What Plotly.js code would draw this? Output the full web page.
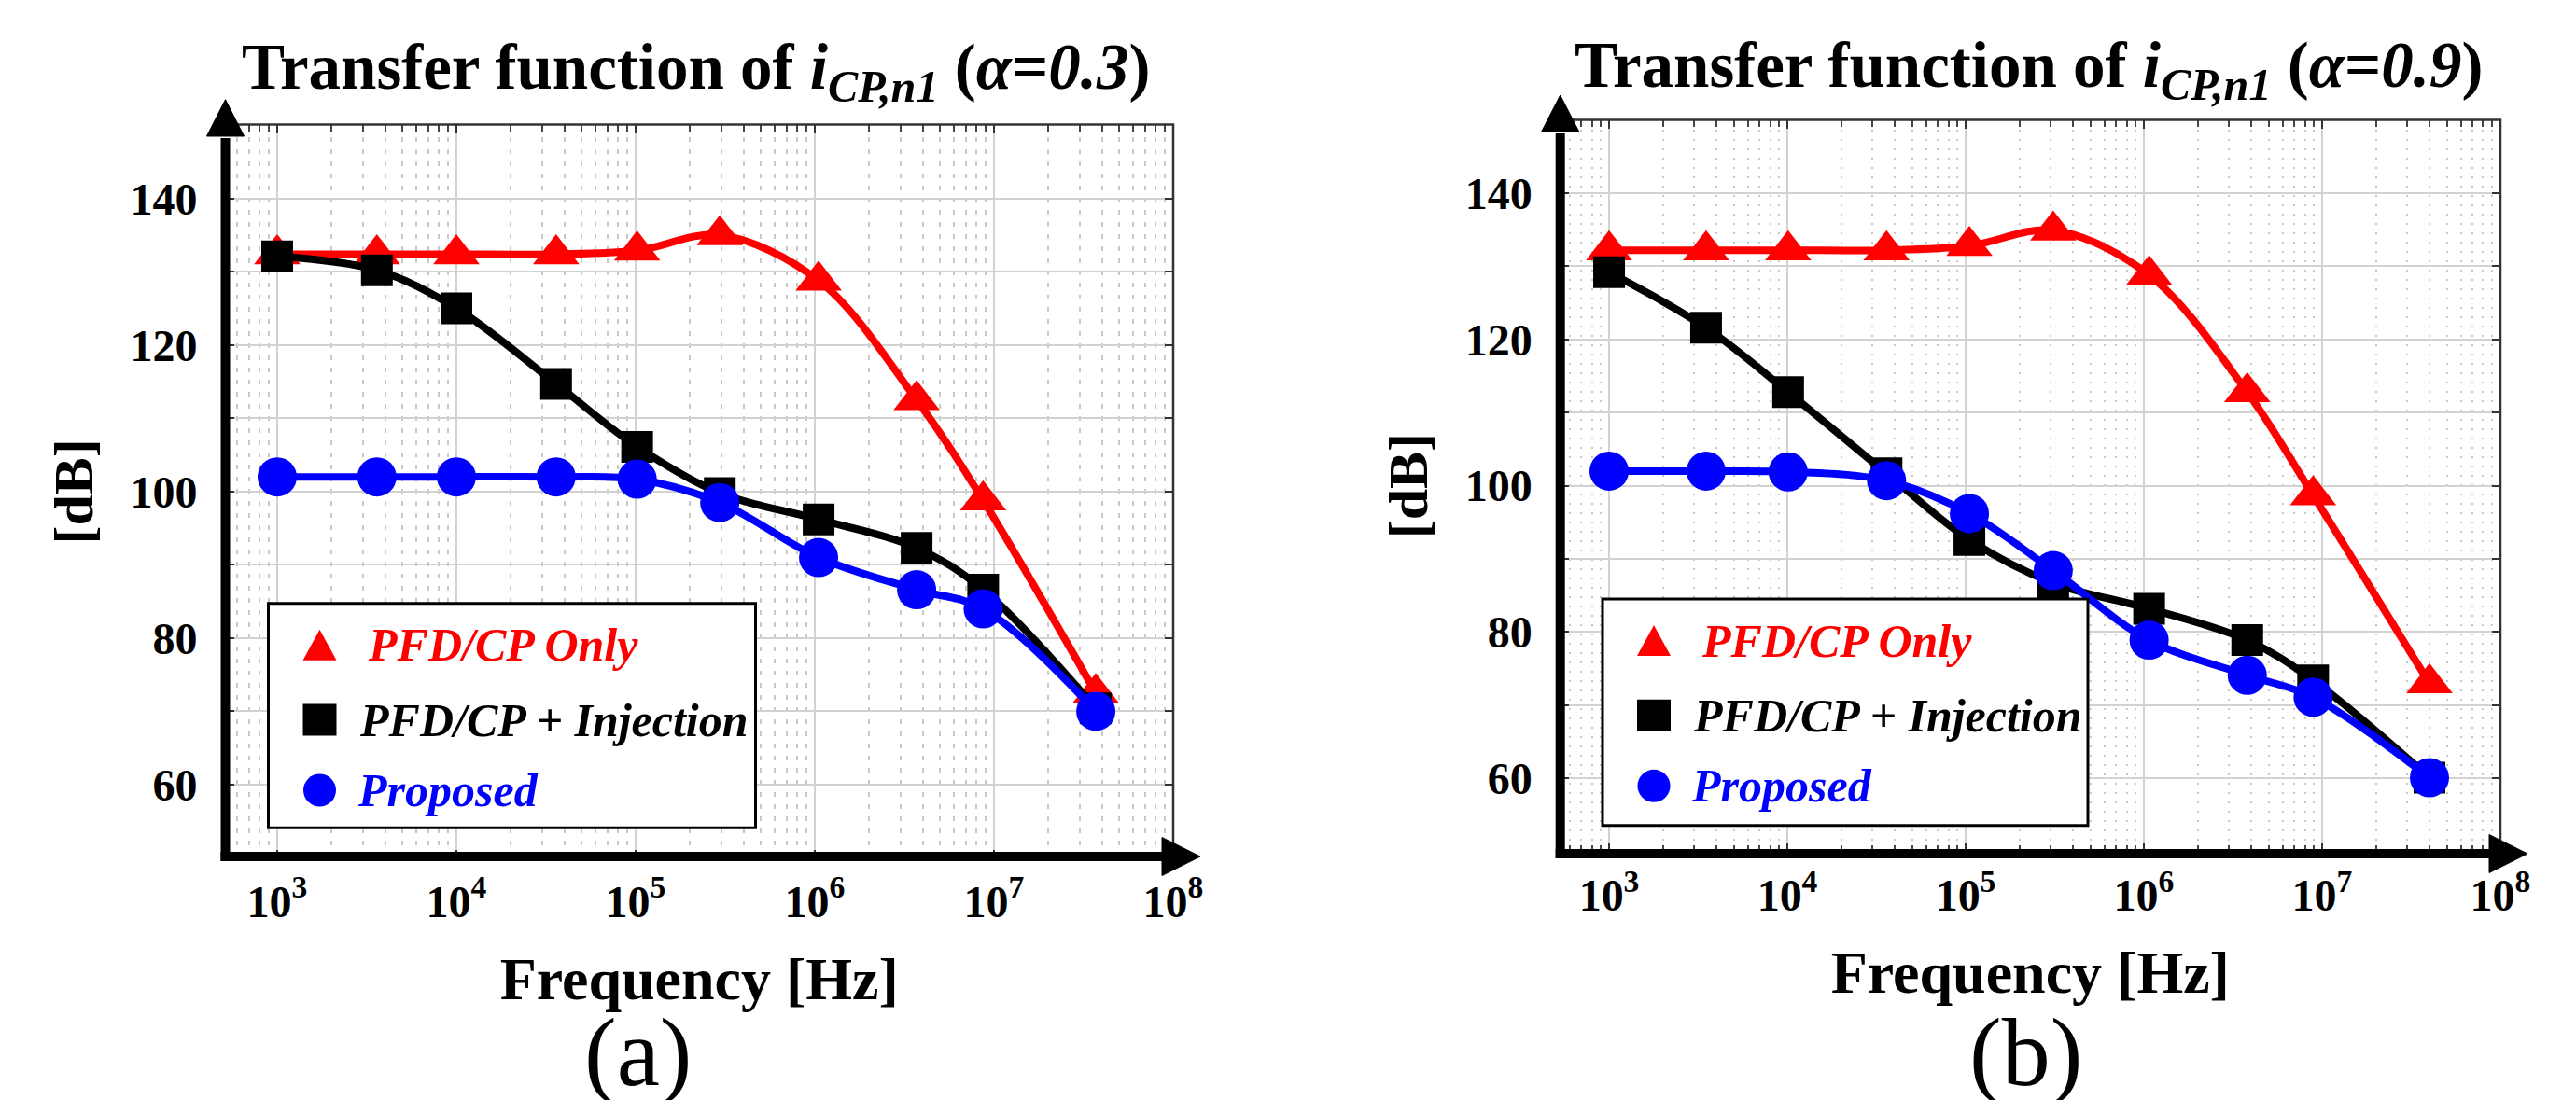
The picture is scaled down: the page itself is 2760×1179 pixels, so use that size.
<!DOCTYPE html>
<html><head><meta charset="utf-8">
<script src="https://cdn.plot.ly/plotly-3.0.1.min.js"></script>
<style>html,body{margin:0;padding:0;background:#fff}#chart{width:2760px;height:1179px}</style>
</head><body><div id="chart"></div>
<script>
// ---------- data ----------
const freqA = [1e3, 3.6e3, 1e4, 3.6e4, 1.02e5, 2.95e5, 1.05e6, 3.7e6, 8.7e6, 3.7e7];
const freqB = [1e3, 3.5e3, 1.01e4, 3.6e4, 1.05e5, 3.1e5, 1.07e6, 3.8e6, 8.9e6, 4.0e7];
const pfdOnlyA   = [132.4, 132.4, 132.4, 132.4, 132.9, 135.0, 128.8, 112.5, 98.8, 72.5];
const injectionA = [132.1, 130.2, 125.0, 114.7, 106.1, 99.8, 96.2, 92.3, 86.6, 70.4];
const proposedA  = [102.0, 102.0, 102.0, 102.0, 101.7, 98.5, 91.0, 86.6, 84.0, 70.0];
const pfdOnlyB   = [132.2, 132.2, 132.2, 132.2, 132.8, 134.9, 128.8, 112.8, 98.7, 73.0];
const injectionB = [129.2, 121.6, 112.8, 101.7, 92.6, 86.7, 83.2, 78.9, 73.4, 60.1];
const proposedB  = [102.0, 102.0, 101.9, 100.7, 96.2, 88.4, 78.9, 74.1, 71.1, 60.1];
const seriesNames  = ['PFD/CP Only', 'PFD/CP + Injection', 'Proposed'];
const seriesColors = ['#ff0000', '#000000', '#0000ff'];
const xTickVals = [1e3, 1e4, 1e5, 1e6, 1e7, 1e8];
const xTickText = ['10<sup>3</sup>', '10<sup>4</sup>', '10<sup>5</sup>', '10<sup>6</sup>', '10<sup>7</sup>', '10<sup>8</sup>'];
const yTickVals = [60, 80, 100, 120, 140];
const titleA = '<b>Transfer function of <i>i</i><sub><i>CP,n1</i></sub> (<i>α</i>=<i>0.3</i>)</b>';
const titleB = '<b>Transfer function of <i>i</i><sub><i>CP,n1</i></sub> (<i>α</i>=<i>0.9</i>)</b>';
const panelLabels = ['(a)', '(b)'];

// ---------- helpers ----------
const W = 2760, H = 1179;
const FONT = 'Liberation Serif, Times New Roman, serif';
const PX = x => x / W;
const PY = y => 1 - y / H;

const symbols = ['triangle-up', 'square', 'circle'];
const sizes = [43, 34, 42];

function traces(freq, ys, xa, ya) {
  return ys.map((y, i) => ({
    type: 'scatter', mode: 'lines+markers', x: freq, y: y, xaxis: xa, yaxis: ya,
    name: seriesNames[i], showlegend: false,
    line: {color: seriesColors[i], width: 8, shape: 'spline', smoothing: 1},
    marker: {symbol: symbols[i], size: sizes[i], color: seriesColors[i]}
  }));
}

const data = [].concat(
  traces(freqA, [pfdOnlyA, injectionA, proposedA], 'x', 'y'),
  traces(freqB, [pfdOnlyB, injectionB, proposedB], 'x2', 'y2')
);

function xAxis(domain, range, dash, anchor) {
  return {
    type: 'log', domain: domain, range: range, anchor: anchor,
    tickmode: 'array', tickvals: xTickVals, ticktext: xTickText,
    tickfont: {family: FONT, size: 48, color: '#000', weight: 'bold'},
    ticks: 'inside', ticklen: 9, tickwidth: 2, tickcolor: '#333', mirror: 'ticks',
    ticklabelstandoff: 14,
    showline: false, zeroline: false,
    showgrid: true, gridcolor: '#d2d2d2', gridwidth: 2,
    minor: {dtick: 'D1', showgrid: true, gridcolor: '#c8c8c8', gridwidth: 2, griddash: dash,
            ticks: 'inside', ticklen: 7, tickwidth: 2, tickcolor: '#444'},
    title: {text: '<b>Frequency [Hz]</b>', font: {family: FONT, size: 64, color: '#000'}, standoff: 34},
    automargin: false
  };
}
function yAxis(domain, anchor) {
  return {
    domain: domain, range: [50, 150], anchor: anchor,
    tickmode: 'array', tickvals: yTickVals,
    tickfont: {family: FONT, size: 48, color: '#000', weight: 'bold'},
    ticks: 'inside', ticklen: 9, tickwidth: 2, tickcolor: '#333', mirror: 'ticks',
    ticklabelstandoff: 29,
    showline: false, zeroline: false,
    showgrid: true, gridcolor: '#d2d2d2', gridwidth: 2,
    minor: {dtick: 10, showgrid: true, gridcolor: '#d2d2d2', gridwidth: 2,
            ticks: 'inside', ticklen: 9, tickwidth: 2, tickcolor: '#333'},
    title: {text: '<b>[dB]</b>', font: {family: FONT, size: 60, color: '#000'}, standoff: 20},
    automargin: false
  };
}

function panelShapes(p) {
  const s = [];
  // thin frame (top, right)
  s.push({type: 'path', xref: 'paper', yref: 'paper', layer: 'above',
    path: `M${PX(p.ax)},${PY(p.top)} L${PX(p.right)},${PY(p.top)} L${PX(p.right)},${PY(p.bottom)}`,
    line: {color: '#333', width: 2.5}});
  // thick y axis with arrow
  s.push({type: 'line', xref: 'paper', yref: 'paper', layer: 'above',
    x0: PX(p.ax), x1: PX(p.ax), y0: PY(p.bottom + 5), y1: PY(p.upBase + 2),
    line: {color: '#000', width: 10}});
  s.push({type: 'path', xref: 'paper', yref: 'paper', layer: 'above', fillcolor: '#000',
    path: `M${PX(p.ax - 20)},${PY(p.upBase)} L${PX(p.ax)},${PY(p.upTip)} L${PX(p.ax + 20)},${PY(p.upBase)} Z`,
    line: {color: '#000', width: 1}});
  // thick x axis with arrow
  s.push({type: 'line', xref: 'paper', yref: 'paper', layer: 'above',
    x0: PX(p.ax - 5), x1: PX(p.rightBase + 2), y0: PY(p.bottom), y1: PY(p.bottom),
    line: {color: '#000', width: 10}});
  s.push({type: 'path', xref: 'paper', yref: 'paper', layer: 'above', fillcolor: '#000',
    path: `M${PX(p.rightBase)},${PY(p.bottom - 20.5)} L${PX(p.rightTip)},${PY(p.bottom)} L${PX(p.rightBase)},${PY(p.bottom + 20.5)} Z`,
    line: {color: '#000', width: 1}});
  return s;
}

function legendParts(bx0, by0, bx1, by1) {
  const shapes = [], ann = [];
  shapes.push({type: 'rect', xref: 'paper', yref: 'paper', layer: 'above',
    x0: PX(bx0), x1: PX(bx1), y0: PY(by1), y1: PY(by0),
    fillcolor: '#fff', line: {color: '#000', width: 3}});
  const mx = bx0 + 55;
  const rows = [by0 + 44.5, by0 + 124.8, by0 + 200.3];
  const textX = [bx0 + 104, bx0 + 95, bx0 + 93];
  shapes.push({type: 'path', xref: 'paper', yref: 'paper', layer: 'above', fillcolor: seriesColors[0],
    path: `M${PX(mx - 18)},${PY(rows[0] + 16.5)} L${PX(mx)},${PY(rows[0] - 16.5)} L${PX(mx + 18)},${PY(rows[0] + 16.5)} Z`,
    line: {width: 0}});
  shapes.push({type: 'rect', xref: 'paper', yref: 'paper', layer: 'above', fillcolor: seriesColors[1],
    x0: PX(mx - 18), x1: PX(mx + 18), y0: PY(rows[1] + 17), y1: PY(rows[1] - 17), line: {width: 0}});
  shapes.push({type: 'circle', xref: 'paper', yref: 'paper', layer: 'above', fillcolor: seriesColors[2],
    x0: PX(mx - 17.5), x1: PX(mx + 17.5), y0: PY(rows[2] + 17.5), y1: PY(rows[2] - 17.5), line: {width: 0}});
  seriesNames.forEach((n, i) => {
    ann.push({xref: 'paper', yref: 'paper', x: PX(textX[i]), y: PY(rows[i]), xanchor: 'left', yanchor: 'middle',
      text: '<b><i>' + n + '</i></b>', showarrow: false,
      font: {family: FONT, size: 50, color: seriesColors[i]}});
  });
  return {shapes, ann};
}

const pA = {ax: 241.5, top: 133.5, right: 1257, bottom: 918, upTip: 106.7, upBase: 146, rightTip: 1286, rightBase: 1245};
const pB = {ax: 1671.7, top: 128.6, right: 2679, bottom: 915, upTip: 102, upBase: 141, rightTip: 2708, rightBase: 2667};
const lgA = legendParts(287.5, 646.7, 809.5, 887.3);
const lgB = legendParts(1717, 642, 2237, 884.7);

const annotations = [
  {xref: 'paper', yref: 'paper', x: PX(746), y: PY(77), xanchor: 'center', yanchor: 'middle', showarrow: false,
   text: titleA, font: {family: FONT, size: 69, color: '#000'}},
  {xref: 'paper', yref: 'paper', x: PX(2174), y: PY(74), xanchor: 'center', yanchor: 'middle', showarrow: false,
   text: titleB, font: {family: FONT, size: 69, color: '#000'}},
  {xref: 'paper', yref: 'paper', x: PX(683), y: PY(1068), xanchor: 'center', yanchor: 'top', showarrow: false,
   text: panelLabels[0], font: {family: FONT, size: 104, color: '#000'}},
  {xref: 'paper', yref: 'paper', x: PX(2170), y: PY(1068), xanchor: 'center', yanchor: 'top', showarrow: false,
   text: panelLabels[1], font: {family: FONT, size: 104, color: '#000'}}
].concat(lgA.ann, lgB.ann);

const layout = {
  width: W, height: H,
  margin: {l: 0, r: 0, t: 0, b: 0, pad: 0},
  paper_bgcolor: '#fff', plot_bgcolor: '#fff',
  font: {family: FONT, color: '#000'},
  showlegend: false,
  xaxis: xAxis([PX(241.5), PX(1257)], [2.711, 8.0], '5px,8px', 'y'),
  yaxis: yAxis([PY(919.5), PY(134.2)], 'x'),
  xaxis2: xAxis([PX(1671.7), PX(2679)], [2.726, 8.0], '2px,8px', 'y2'),
  yaxis2: yAxis([PY(912.7), PY(128.6)], 'x2'),
  shapes: [].concat(panelShapes(pA), panelShapes(pB), lgA.shapes, lgB.shapes),
  annotations: annotations
};

Plotly.newPlot('chart', data, layout, {displayModeBar: false, staticPlot: true});
</script>
</body></html>
